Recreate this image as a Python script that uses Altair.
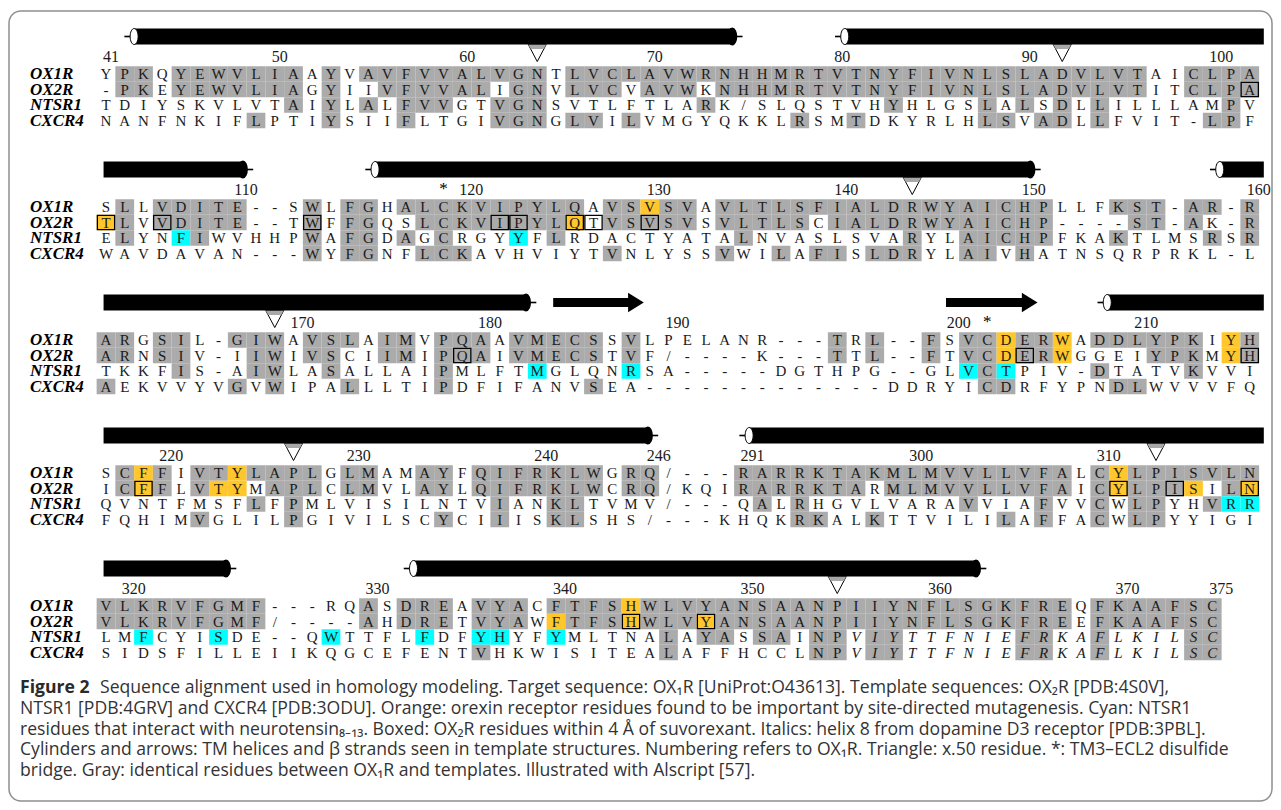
import altair as alt
import pandas as pd

# ---------------- data ----------------
NAMES = ["OX1R", "OX2R", "NTSR1", "CXCR4"]

OX1R = [
    "YPKQYEWVLIAAYVAVFVVALVGNTLVCLAVWRNHHMRTVTNYFIVNLSLADVLVTAICLPA",
    "SLLVDITE--SWLFGHALCKVIPYLQAVSVSVAVLTLSFIALDRWYAICHPLLFKST-AR-R",
    "ARGSIL-GIWAVSLAIMVPQAAVMECSSVLPELANR---TRL--FSVCDERWADDLYPKIYH",
    "SCFFIVTYLAPLGLMAMAYFQIFRKLWGRQ/---RARRKTAKMLMVVLLVFALCYLPISVLN",
    "VLKRVFGMF---RQASDREAVYACFTFSHWLVYANSAANPIIYNFLSGKFREQFKAAFSC",
]
OX2R = [
    "-PKEYEWVLIAGYIIVFVVALIGNVLVCVAVWKNHHMRTVTNYFIVNLSLADVLVTITCLPA",
    "TLVVDITE--TWFFGQSLCKVIPYLQTVSVSVSVLTLSCIALDRWYAICHP----ST-AK-R",
    "ARNSIV-IIWIVSCIIMIPQAIVMECSTVF/----K---TTL--FTVCDERWGGEIYPKMYH",
    "ICFFLVTYMAPLCLMVLAYLQIFRKLWCRQ/KQIRARRKTARMLMVVLLVFAICYLPISILN",
    "VLKRVFGMF/----AHDRETVYAWFTFSHWLVYANSAANPIIYNFLSGKFREEFKAAFSC",
]
NTSR1 = [
    "TDIYSKVLVTAIYLALFVVGTVGNSVTLFTLARK/SLQSTVHYHLGSLALSDLLILLLAMPV",
    "ELYNFIWVHHPWAFGDAGCRGYYFLRDACTYATALNVASLSVARYLAICHPFKAKTLMSRSR",
    "TKKFIS-AIWLASALLAIPMLFTMGLQNRSA-----DGTHPG--GLVCTPIV-DTATVKVVI",
    "QVNTFMSFLFPMLVISILNTVIANKLTVMV/---QALRHGVLVARAVVIAFVVCWLPYHVRR",
    "LMFCYISDE--QWTTFLFDFYHYFYMLTNALAYASSAINPVIYTTFNIEFRKAFLKILSC",
]
CXCR4 = [
    "NANFNKIFLPTIYSIIFLTGIVGNGLVILVMGYQKKLRSMTDKYRLHLSVADLLFVIT-LPF",
    "WAVDAVAN---WYFGNFLCKAVHVIYTVNLYSSVWILAFISLDRYLAIVHATNSQRPRKL-L",
    "AEKVVYVGVWIPALLLTIPDFIFANVSEA-------------DDRYICDRFYPNDLWVVVFQ",
    "FQHIMVGLILPGIVILSCYCIIISKLSHS/---KHQKRKALKTTVILILAFFACWLPYYIGI",
    "SIDSFILLEIIKQGCEFENTVHKWISITEALAFFHCCLNPVIYTTFNIEFRKAFLKILSC",
]
SEQS = [OX1R, OX2R, NTSR1, CXCR4]

# (block, row, column)
ORANGE = [(1, 0, 29), (1, 1, 0), (1, 1, 25),
          (2, 0, 48), (2, 0, 51), (2, 0, 60), (2, 1, 48), (2, 1, 51), (2, 1, 60),
          (3, 0, 2), (3, 0, 7), (3, 0, 54), (3, 1, 2), (3, 1, 6), (3, 1, 7),
          (3, 1, 54), (3, 1, 58), (3, 1, 61),
          (4, 0, 28), (4, 1, 24), (4, 1, 28), (4, 1, 32)]
CYAN = [(1, 2, 4), (1, 2, 22), (2, 2, 23), (2, 2, 28), (2, 2, 46), (2, 2, 48),
        (3, 2, 60), (3, 2, 61),
        (4, 2, 2), (4, 2, 6), (4, 2, 12), (4, 2, 17), (4, 2, 20), (4, 2, 21), (4, 2, 24)]
BOXED = [(0, 1, 61),
         (1, 1, 0), (1, 1, 3), (1, 1, 11), (1, 1, 21), (1, 1, 22), (1, 1, 25), (1, 1, 26), (1, 1, 29),
         (2, 1, 19), (2, 1, 49), (2, 1, 61),
         (3, 1, 2), (3, 1, 54), (3, 1, 57), (3, 1, 61),
         (4, 1, 28), (4, 1, 32)]
ITALIC_FROM = {(4, 2): 40, (4, 3): 40}

NUMBERS = [
    (0, 0, "41"), (0, 9, "50"), (0, 19, "60"), (0, 29, "70"), (0, 39, "80"), (0, 49, "90"), (0, 59, "100"),
    (1, 7, "110"), (1, 19, "120"), (1, 29, "130"), (1, 39, "140"), (1, 49, "150"), (1, 61, "160"),
    (2, 10, "170"), (2, 20, "180"), (2, 30, "190"), (2, 45, "200"), (2, 55, "210"),
    (3, 3, "220"), (3, 13, "230"), (3, 23, "240"), (3, 29, "246"), (3, 34, "291"), (3, 43, "300"), (3, 53, "310"),
    (4, 1, "320"), (4, 14, "330"), (4, 24, "340"), (4, 34, "350"), (4, 44, "360"), (4, 54, "370"), (4, 59, "375"),
]
STARS = [(1, 18), (2, 47)]
TRIANGLES = [(0, 23), (0, 51), (1, 43), (2, 9), (3, 10), (3, 56), (4, 39)]
# helices: block, start col, end col, open left cap, rounded right end
HELICES = [(0, 1.5, 33.4, True, True), (0, 39.4, 61.75, True, False),
           (1, -0.13, 7.3, False, True), (1, 14.35, 49.3, True, True), (1, 59.4, 61.75, True, False),
           (2, -0.13, 22.4, False, True), (2, 53.4, 61.75, True, False),
           (3, -0.13, 28.9, False, True), (3, 34.3, 61.75, True, False),
           (4, -0.13, 6.4, False, True), (4, 16.4, 46.4, True, True)]
STRANDS = [(2, 23.85, 28.6), (2, 44.8, 49.6)]

FIG_LABEL = "Figure 2"
CAPTION = [
    "Sequence alignment used in homology modeling. Target sequence: OX\u2081R [UniProt:O43613]. Template sequences: OX\u2082R [PDB:4S0V],",
    "NTSR1 [PDB:4GRV] and CXCR4 [PDB:3ODU]. Orange: orexin receptor residues found to be important by site-directed mutagenesis. Cyan: NTSR1",
    "residues that interact with neurotensin\u2088\u208b\u2081\u2083. Boxed: OX\u2082R residues within 4 \u00c5 of suvorexant. Italics: helix 8 from dopamine D3 receptor [PDB:3PBL].",
    "Cylinders and arrows: TM helices and \u03b2 strands seen in template structures. Numbering refers to OX\u2081R. Triangle: x.50 residue. *: TM3\u2013ECL2 disulfide",
    "bridge. Gray: identical residues between OX\u2081R and templates. Illustrated with Alscript [57].",
]

# ---------------- layout ----------------
PAD = {"left": 1, "top": 3, "right": 1, "bottom": 1}
OX, OY = 8 + PAD["left"], 8 + PAD["top"]
W, H = 1263, 790
COL0_PX, COL_PX = 106.0, 18.75
XLO = (OX - COL0_PX) / COL_PX
XHI = (OX + W - COL0_PX) / COL_PX
ROW0, BLOCK_SP, ROW_SP = 74.0, 133.0, 15.5
BAR_TOP, BAR_BOT = 28.5, 44.5
NUM_Y, TRI_Y = 57.0, 53.0
CAP_Y0, CAP_SP = 688.0, 20.8

xs = alt.Scale(domain=[XLO, XHI], nice=False, zero=False)
ys = alt.Scale(domain=[OY, OY + H], nice=False, zero=False, reverse=True)


def X(f):
    return alt.X(f, type="quantitative", scale=xs, axis=None)


def Y(f):
    return alt.Y(f, type="quantitative", scale=ys, axis=None)


cells = []
for b in range(5):
    for r in range(4):
        seq = SEQS[r][b]
        ref = OX1R[b]
        for i, ch in enumerate(seq):
            if ch in "-/":
                gray = False
            elif r == 0:
                gray = any(i < len(SEQS[k][b]) and SEQS[k][b][i] == ch for k in (1, 2, 3))
            else:
                gray = i < len(ref) and ch == ref[i]
            key = (b, r, i)
            if key in ORANGE:
                fill = "orange"
            elif key in CYAN:
                fill = "cyan"
            elif gray:
                fill = "gray"
            else:
                fill = "none"
            yc = ROW0 + BLOCK_SP * b + ROW_SP * r
            cells.append(dict(col=i, xa=i - 0.5, xb=i + 0.5, bxa=i - 0.46, bxb=i + 0.46,
                              y=yc, ya=yc - ROW_SP / 2, yb=yc + ROW_SP / 2,
                              bya=yc - 7.2, byb=yc + 7.2, ch=ch, fill=fill,
                              italic=i >= ITALIC_FROM.get((b, r), 10 ** 6),
                              boxed=key in BOXED))
cells = pd.DataFrame(cells)

fills = cells[cells.fill != "none"]
boxes = cells[cells.boxed]
txt_n = cells[~cells.italic]
txt_i = cells[cells.italic]

fill_layer = alt.Chart(fills).mark_rect().encode(
    x=X("xa"), x2="xb", y=Y("ya"), y2="yb",
    color=alt.Color("fill:N", legend=None,
                    scale=alt.Scale(domain=["gray", "orange", "cyan"],
                                    range=["#ABABAB", "#FFC72C", "#00FFFF"])))
box_layer = alt.Chart(boxes).mark_rect(fillOpacity=0, stroke="black", strokeWidth=1.3).encode(
    x=X("bxa"), x2="bxb", y=Y("bya"), y2="byb")
seq_font = dict(font="Liberation Serif", fontSize=15, baseline="middle", align="center", color="#1A1A1A")
text_n = alt.Chart(txt_n).mark_text(**seq_font).encode(x=X("col"), y=Y("y"), text="ch:N")
text_i = alt.Chart(txt_i).mark_text(fontStyle="italic", **seq_font).encode(x=X("col"), y=Y("y"), text="ch:N")

names = pd.DataFrame([dict(name=NAMES[r], y=ROW0 + BLOCK_SP * b + ROW_SP * r)
                      for b in range(5) for r in range(4)])
name_layer = alt.Chart(names).mark_text(font="Liberation Serif", fontSize=17, fontWeight="bold",
                                        fontStyle="italic", align="left", baseline="middle",
                                        color="black").encode(
    x=alt.value(21), y=Y("y"), text="name:N")

nums = pd.DataFrame([dict(col=c, y=NUM_Y + BLOCK_SP * b, t=t) for b, c, t in NUMBERS])
num_layer = alt.Chart(nums).mark_text(font="Liberation Serif", fontSize=16, align="left",
                                      baseline="middle", dx=-3, color="#1A1A1A").encode(
    x=X("col"), y=Y("y"), text="t:N")
stars = pd.DataFrame([dict(col=c, y=NUM_Y - 1 + BLOCK_SP * b, t="*") for b, c in STARS])
star_layer = alt.Chart(stars).mark_text(font="Liberation Serif", fontSize=17, align="center",
                                        baseline="middle", color="black").encode(
    x=X("col"), y=Y("y"), text="t:N")

tris = pd.DataFrame([dict(col=c, y=TRI_Y + BLOCK_SP * b) for b, c in TRIANGLES])
tri_layer = alt.Chart(tris).mark_point(shape="M-1,-0.95L1,-0.95L0,0.95Z", size=324, filled=True,
                                       fill="white", stroke="black", strokeWidth=1, opacity=1).encode(
    x=X("col"), y=Y("y"))
tri_top = alt.Chart(tris).mark_point(shape="M-0.97,-0.92L0.97,-0.92L0.72,-0.45L-0.72,-0.45Z", size=324,
                                     filled=True, fill="#A8A8A8", opacity=1, strokeWidth=0).encode(
    x=X("col"), y=Y("y"))

bars = []
ticks = []
lcaps = []
rcaps = []
for b, s, e, lc, rc in HELICES:
    base = BLOCK_SP * b
    bars.append(dict(xa=s, xb=e, ya=BAR_TOP + base, yb=BAR_BOT + base))
    yc = (BAR_TOP + BAR_BOT) / 2 + base
    if lc:
        lcaps.append(dict(col=s, y=yc))
        ticks.append(dict(xa=s - 0.52, xb=s - 0.15, y=yc))
    if rc:
        rcaps.append(dict(col=e, y=yc))
        ticks.append(dict(xa=e + 0.15, xb=e + 0.55, y=yc))
for b, s, e in STRANDS:
    base = BLOCK_SP * b
    yc = (BAR_TOP + BAR_BOT) / 2 + base
    bars.append(dict(xa=s, xb=e - 0.55, ya=yc - 4.5, yb=yc + 4.5))
bars = pd.DataFrame(bars)
ticks = pd.DataFrame(ticks)
lcaps = pd.DataFrame(lcaps)
rcaps = pd.DataFrame(rcaps)
heads = pd.DataFrame([dict(col=e - 0.36, y=(BAR_TOP + BAR_BOT) / 2 + BLOCK_SP * b) for b, s, e in STRANDS])

ELLIPSE = "M0,-1A0.5,1,0,1,1,0,1A0.5,1,0,1,1,0,-1Z"
bar_layer = alt.Chart(bars).mark_rect(color="black").encode(x=X("xa"), x2="xb", y=Y("ya"), y2="yb")
rcap_layer = alt.Chart(rcaps).mark_point(shape=ELLIPSE, size=256, filled=True, fill="black",
                                         stroke="black", opacity=1).encode(x=X("col"), y=Y("y"))
lcap_layer = alt.Chart(lcaps).mark_point(shape=ELLIPSE, size=256, filled=True, fill="white",
                                         stroke="black", strokeWidth=1, opacity=1).encode(x=X("col"), y=Y("y"))
tick_layer = alt.Chart(ticks).mark_rule(color="black", strokeWidth=1.6).encode(
    x=X("xa"), x2="xb", y=Y("y"))
head_layer = alt.Chart(heads).mark_point(shape="M-0.8,-1L0.8,0L-0.8,1Z", size=256, filled=True,
                                         fill="black", stroke="black", opacity=1).encode(x=X("col"), y=Y("y"))

cap0 = pd.DataFrame([dict(t=FIG_LABEL, y=CAP_Y0)])
cap_rest = pd.DataFrame([dict(t=CAPTION[0], y=CAP_Y0)])
cap_lines = pd.DataFrame([dict(t=t, y=CAP_Y0 + CAP_SP * k) for k, t in enumerate(CAPTION) if k > 0])
cap_font = dict(font="Open Sans", fontSize=17.6, align="left", baseline="middle")
cap0_layer = alt.Chart(cap0).mark_text(fontWeight="bold", color="#2A2A2A", **cap_font).encode(
    x=alt.value(11), y=Y("y"), text="t:N")
cap1_layer = alt.Chart(cap_rest).mark_text(color="#333333", **cap_font).encode(
    x=alt.value(91), y=Y("y"), text="t:N")
cap2_layer = alt.Chart(cap_lines).mark_text(color="#333333", **cap_font).encode(
    x=alt.value(11), y=Y("y"), text="t:N")

chart = alt.layer(
    fill_layer, box_layer, text_n, text_i, name_layer, num_layer, star_layer,
    bar_layer, rcap_layer, tick_layer, lcap_layer, head_layer, tri_layer, tri_top,
    cap0_layer, cap1_layer, cap2_layer,
).properties(
    width=W, height=H, padding=PAD, autosize=alt.AutoSizeParams(type="none"),
    background="white",
).configure_view(stroke="#8F8F8F", strokeWidth=1.5, cornerRadius=12)

chart.save("out.html", embed_options={"renderer": "svg", "actions": False})
